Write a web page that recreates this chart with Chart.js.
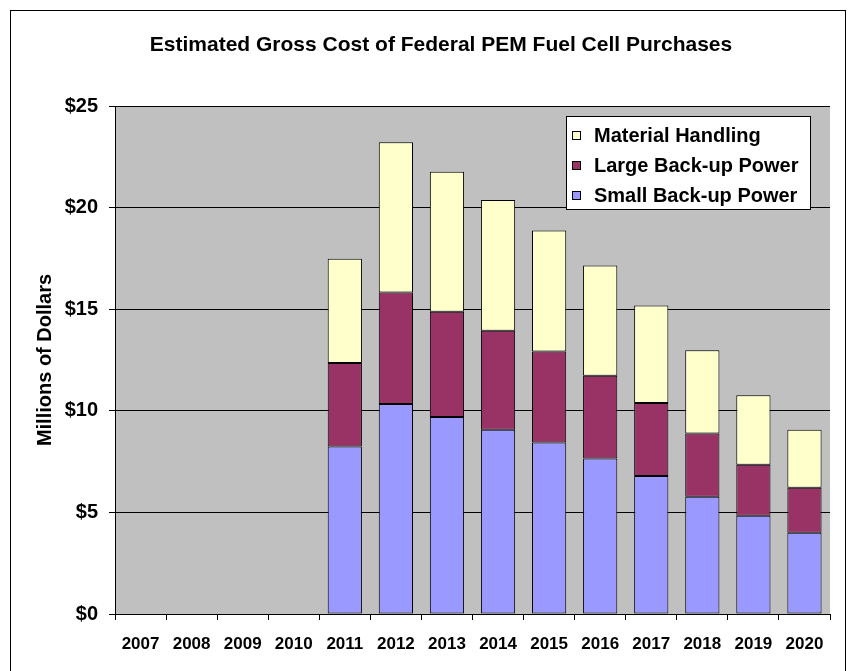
<!DOCTYPE html>
<html>
<head>
<meta charset="utf-8">
<script src="https://cdn.jsdelivr.net/npm/chart.js@4.4.0/dist/chart.umd.min.js"></script>
<style>
  html, body { margin: 0; padding: 0; background: #fff; }
  #wrap { width: 857px; height: 671px; }
</style>
</head>
<body>
<div id="wrap"><canvas id="myChart" width="857" height="671"></canvas></div>
<script>
// years on the x axis
var years = ['2007','2008','2009','2010','2011','2012','2013','2014','2015','2016','2017','2018','2019','2020'];
// millions of dollars (no purchases 2007-2010)
var smallBackup = [0, 0, 0, 0, 8.24, 10.33, 9.69, 9.07, 8.44, 7.65, 6.79, 5.77, 4.84, 4.00];
var largeBackup = [0, 0, 0, 0, 4.11, 5.49, 5.18, 4.87, 4.48, 4.07, 3.59, 3.11, 2.50, 2.21];
var materialHandling = [0, 0, 0, 0, 5.13, 7.40, 6.89, 6.44, 5.95, 5.43, 4.80, 4.10, 3.43, 2.86];
var yTicks = [0, 5, 10, 15, 20, 25];
var chartTitle = 'Estimated Gross Cost of Federal PEM Fuel Cell Purchases';

var FONT = 'Arial, "Liberation Sans", sans-serif';

// grey plot background, outer frame and the title
var backdrop = {
    id: 'backdrop',
    beforeDraw: function(chart) {
        var c = chart.ctx, a = chart.chartArea;
        c.save();
        c.fillStyle = '#fff';
        c.fillRect(0, 0, chart.width, chart.height);
        c.fillStyle = '#C0C0C0';
        c.fillRect(a.left, a.top, a.right - a.left, a.bottom - a.top);
        c.strokeStyle = '#000';
        c.lineWidth = 1;
        c.strokeRect(10.5, 10.5, 835, 700);
        c.fillStyle = '#000';
        c.font = 'bold 21px ' + FONT;
        c.textAlign = 'center';
        c.textBaseline = 'middle';
        c.fillText(chartTitle, 441, 45);
        c.restore();
    }
};

// legend box sitting inside the plot, top right
var boxLegend = {
    id: 'boxLegend',
    afterDraw: function(chart) {
        var c = chart.ctx;
        var x = 566, y = 116, w = 244, h = 93;
        c.save();
        c.fillStyle = '#fff';
        c.fillRect(x, y, w, h);
        c.strokeStyle = '#000';
        c.lineWidth = 1;
        c.strokeRect(x + 0.5, y + 0.5, w, h);
        c.font = 'bold 20px ' + FONT;
        c.textBaseline = 'middle';
        var sets = chart.data.datasets.slice().reverse();
        sets.forEach(function(ds, i) {
            var cy = 135 + i * 30;
            c.fillStyle = ds.backgroundColor;
            c.fillRect(572, cy - 4, 8, 8);
            c.strokeStyle = '#000';
            c.strokeRect(572.5, cy - 3.5, 8, 8);
            c.fillStyle = '#000';
            c.fillText(ds.label, 594, cy + 1);
        });
        c.restore();
    }
};

var ctx = document.getElementById('myChart').getContext('2d');
var myChart = new Chart(ctx, {
    type: 'bar',
    data: {
        labels: years,
        datasets: [{
            label: 'Small Back-up Power',
            data: smallBackup,
            backgroundColor: '#9999FF',
            borderColor: '#000',
            borderWidth: 1,
            borderSkipped: false
        }, {
            label: 'Large Back-up Power',
            data: largeBackup,
            backgroundColor: '#993366',
            borderColor: '#000',
            borderWidth: 1,
            borderSkipped: false
        }, {
            label: 'Material Handling',
            data: materialHandling,
            backgroundColor: '#FFFFCC',
            borderColor: '#000',
            borderWidth: 1,
            borderSkipped: false
        }]
    },
    options: {
        responsive: false,
        animation: false,
        layout: { padding: { left: 0, right: 27, top: 106, bottom: 0 } },
        datasets: { bar: { barPercentage: 0.67, categoryPercentage: 1.0 } },
        plugins: {
            legend: { display: false },
            tooltip: { enabled: false },
            title: { display: false }
        },
        scales: {
            x: {
                stacked: true,
                grid: { drawOnChartArea: false, color: '#000', tickLength: 6, offset: true },
                border: { color: '#000' },
                ticks: { color: '#000', padding: 14, maxRotation: 0, autoSkip: false,
                         font: { family: FONT, size: 17, weight: 'bold' } },
                afterFit: function(s) { s.height = 57; }
            },
            y: {
                stacked: true,
                min: 0,
                max: 25,
                afterBuildTicks: function(s) { s.ticks = yTicks.map(function(v) { return { value: v }; }); },
                grid: { color: '#000', tickLength: 6 },
                border: { color: '#000' },
                ticks: { color: '#000', padding: 11,
                         font: { family: FONT, size: 20, weight: 'bold' },
                         callback: function(v) { return '$' + v; } },
                title: { display: true, text: 'Millions of Dollars', color: '#000',
                         padding: { top: 33, bottom: 0 },
                         font: { family: FONT, size: 20, weight: 'bold' } },
                afterFit: function(s) { s.width = 115; }
            }
        }
    },
    plugins: [backdrop, boxLegend]
});
</script>
</body>
</html>
